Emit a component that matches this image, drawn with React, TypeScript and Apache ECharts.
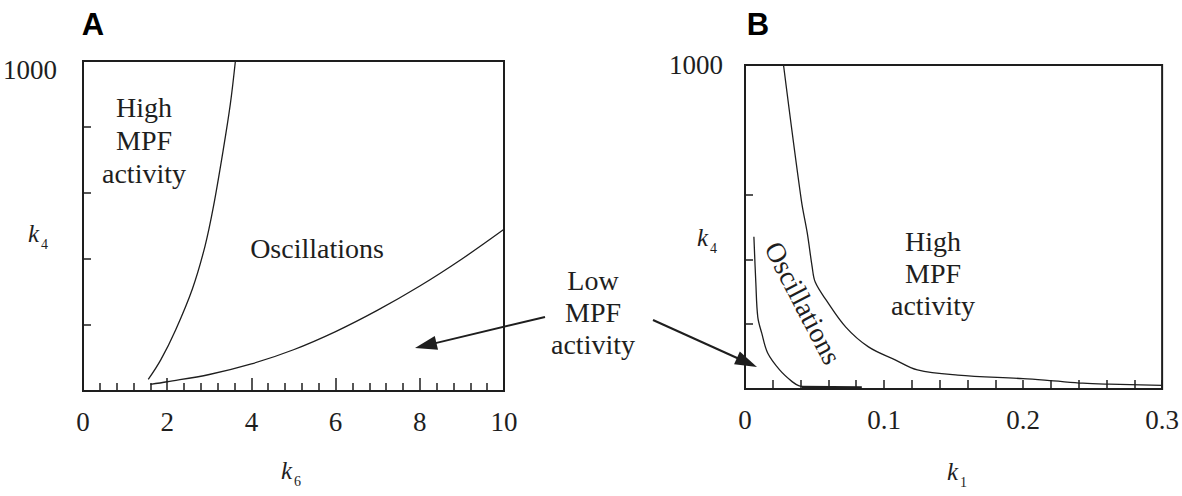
import React, { useEffect, useRef } from "react";
import * as echarts from "echarts";

const SERIF = "Liberation Serif";
const SANS = "Liberation Sans";
const INK = "#1e1e1e";

// Panel A: boundaries in the (k6, k4) plane
const aHighK6 = [1.55, 1.85, 2.2, 2.6, 2.9, 3.1, 3.33, 3.5, 3.62];
const aHighK4 = [35, 95, 185, 310, 440, 560, 730, 870, 1000];
const aLowK6 = [1.6, 2, 3, 4, 5, 6, 7, 8, 9, 10];
const aLowK4 = [20, 28, 50, 82, 125, 180, 245, 318, 400, 490];

// Panel B: boundaries in the (k1, k4) plane
const bHighK1 = [0.0277, 0.0405, 0.0448, 0.0483, 0.0505, 0.0583, 0.0725, 0.0888, 0.108, 0.124, 0.153, 0.2, 0.222, 0.243, 0.262, 0.3];
const bHighK4 = [1000, 583, 481, 377, 330, 275, 191, 130, 90, 59, 43, 32, 25, 18, 15, 11];
const bLowK1 = [0.0064, 0.0078, 0.0092, 0.012, 0.0163, 0.0249, 0.0341, 0.039, 0.045];
const bLowK4 = [470, 327, 222, 173, 111, 59, 22, 10, 6];
const bFloorK1 = [0.041, 0.084];
const bFloorK4 = [6, 5];

// Tick labels
const aXLabels = ["0", "2", "4", "6", "8", "10"];
const bXLabels = ["0", "0.1", "0.2", "0.3"];
const yTopLabel = "1000";

const zip = (xs: number[], ys: number[]) => xs.map((x, i) => [x, ys[i]]);

function arrow(x1: number, y1: number, x2: number, y2: number) {
  const dx = x2 - x1;
  const dy = y2 - y1;
  const len = Math.hypot(dx, dy);
  const ux = dx / len;
  const uy = dy / len;
  const head = 22;
  const half = 7;
  const bx = x2 - ux * head;
  const by = y2 - uy * head;
  return [
    {
      type: "line",
      shape: { x1, y1, x2: bx + ux * 2, y2: by + uy * 2 },
      style: { stroke: INK, lineWidth: 2 },
    },
    {
      type: "polygon",
      shape: {
        points: [
          [x2, y2],
          [bx - uy * half, by + ux * half],
          [bx + uy * half, by - ux * half],
        ],
      },
      style: { fill: INK },
    },
  ];
}

function kName(x: number, y: number, sub: string) {
  return [
    {
      type: "text",
      x,
      y,
      style: {
        text: "k",
        fontFamily: SERIF,
        fontStyle: "italic",
        fontSize: 25,
        fill: INK,
        align: "left",
        verticalAlign: "bottom",
      },
    },
    {
      type: "text",
      x: x + 13,
      y: y + 5,
      style: {
        text: sub,
        fontFamily: SERIF,
        fontSize: 14,
        fill: INK,
        align: "left",
        verticalAlign: "bottom",
      },
    },
  ];
}

function regionText(x: number, y: number, text: string, lineHeight = 33, rotation = 0) {
  return {
    type: "text",
    x,
    y,
    rotation,
    style: {
      text,
      fontFamily: SERIF,
      fontSize: 28,
      fill: INK,
      align: "center",
      verticalAlign: "middle",
      lineHeight,
    },
  };
}

const lineStyle = { color: INK, width: 1.3 };

export default function App() {
  const ref = useRef<HTMLDivElement>(null);

  useEffect(() => {
    if (!ref.current) return;
    const chart = echarts.init(ref.current, undefined, { renderer: "svg" });

    const axisLine = { show: true, lineStyle: { color: INK, width: 2 } };
    const tickLine = { color: INK, width: 1.5 };
    const labelStyle = { fontFamily: SERIF, fontSize: 27, color: INK };

    chart.setOption({
      animation: false,
      backgroundColor: "#ffffff",
      grid: [
        { left: 78, top: 61, width: 426, height: 330, show: true, borderColor: INK, borderWidth: 2 },
        { left: 745, top: 65, width: 422, height: 324, show: true, borderColor: INK, borderWidth: 2 },
      ],
      xAxis: [
        {
          gridIndex: 0,
          type: "value",
          min: 0,
          max: 10,
          interval: 2,
          axisLine,
          axisTick: { show: true, inside: true, length: 13, lineStyle: tickLine },
          minorTick: { show: true, splitNumber: 5, length: 8, lineStyle: tickLine },
          splitLine: { show: false },
          axisLabel: {
            ...labelStyle,
            margin: 17,
            formatter: (v: number) => aXLabels[Math.round(v / 2)] ?? "",
          },
        },
        {
          gridIndex: 1,
          type: "value",
          min: 0,
          max: 0.3,
          interval: 0.1,
          axisLine,
          axisTick: { show: true, inside: true, length: 9, lineStyle: tickLine },
          minorTick: { show: true, splitNumber: 5, length: 9, lineStyle: tickLine },
          splitLine: { show: false },
          axisLabel: {
            ...labelStyle,
            margin: 17,
            formatter: (v: number) => bXLabels[Math.round(v * 10)] ?? "",
          },
        },
      ],
      yAxis: [
        {
          gridIndex: 0,
          type: "value",
          min: 0,
          max: 1000,
          interval: 200,
          axisLine,
          axisTick: { show: true, inside: true, length: 8, lineStyle: tickLine },
          splitLine: { show: false },
          axisLabel: {
            ...labelStyle,
            margin: 26,
            verticalAlign: "top",
            lineHeight: 18,
            formatter: (v: number) => (v === 1000 ? yTopLabel : ""),
          },
        },
        {
          gridIndex: 1,
          type: "value",
          min: 0,
          max: 1000,
          interval: 200,
          axisLine,
          axisTick: {
            show: true,
            inside: true,
            length: 8,
            lineStyle: tickLine,
            customValues: [200, 400, 600],
          },
          splitLine: { show: false },
          axisLabel: {
            ...labelStyle,
            margin: 22,
            formatter: (v: number) => (v === 1000 ? yTopLabel : ""),
          },
        },
      ],
      series: [
        {
          type: "line",
          xAxisIndex: 0,
          yAxisIndex: 0,
          data: zip(aHighK6, aHighK4),
          showSymbol: false,
          smooth: 0.35,
          lineStyle,
        },
        {
          type: "line",
          xAxisIndex: 0,
          yAxisIndex: 0,
          data: zip(aLowK6, aLowK4),
          showSymbol: false,
          smooth: 0.35,
          lineStyle,
        },
        {
          type: "line",
          xAxisIndex: 1,
          yAxisIndex: 1,
          data: zip(bHighK1, bHighK4),
          showSymbol: false,
          smooth: 0.35,
          lineStyle,
        },
        {
          type: "line",
          xAxisIndex: 1,
          yAxisIndex: 1,
          data: zip(bLowK1, bLowK4),
          showSymbol: false,
          smooth: 0.35,
          lineStyle,
        },
        {
          type: "line",
          xAxisIndex: 1,
          yAxisIndex: 1,
          data: zip(bFloorK1, bFloorK4),
          showSymbol: false,
          lineStyle: { color: INK, width: 2.5 },
        },
      ],
      graphic: [
        {
          type: "text",
          x: 93,
          y: 24,
          style: { text: "A", fontFamily: SANS, fontWeight: "bold", fontSize: 31, fill: "#000", align: "center", verticalAlign: "middle" },
        },
        {
          type: "text",
          x: 758,
          y: 24,
          style: { text: "B", fontFamily: SANS, fontWeight: "bold", fontSize: 31, fill: "#000", align: "center", verticalAlign: "middle" },
        },
        regionText(144, 140, "High\nMPF\nactivity"),
        regionText(317, 248, "Oscillations"),
        regionText(593, 312, "Low\nMPF\nactivity", 32),
        regionText(933, 273, "High\nMPF\nactivity", 32),
        regionText(803, 303, "Oscillations", 28, -1.09),
        ...kName(28, 246, "4"),
        ...kName(281, 483, "6"),
        ...kName(697, 250, "4"),
        ...kName(947, 484, "1"),
        ...arrow(545, 317, 415, 348),
        ...arrow(653, 320, 757, 367),
      ],
    });

    return () => chart.dispose();
  }, []);

  return (
    <div
      ref={ref}
      style={{ position: "fixed", left: 0, top: 0, width: 1182, height: 496, background: "#fff" }}
    />
  );
}
